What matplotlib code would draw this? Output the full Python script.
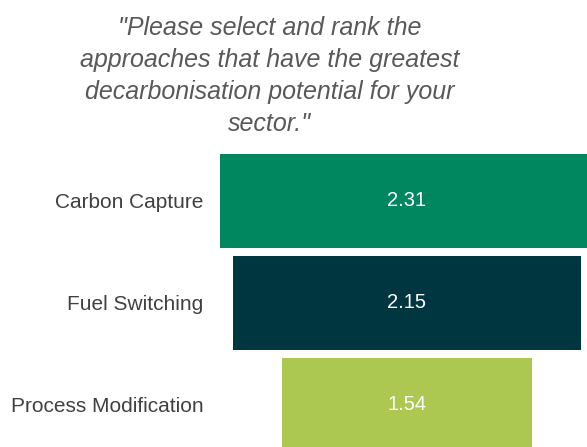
import matplotlib
matplotlib.use("Agg")
import matplotlib.pyplot as plt

categories = ["Carbon Capture", "Fuel Switching", "Process Modification"]
scores = [2.31, 2.15, 1.54]
colors = ["#00875F", "#003640", "#ADC851"]
title = ('"Please select and rank the\napproaches that have the greatest\n'
         'decarbonisation potential for your\nsector."')

plt.rcParams["font.family"] = ["Liberation Sans", "DejaVu Sans"]

fig = plt.figure(figsize=(5.87, 4.47), dpi=100)
# axes spans the bar area; bars are centred on 0 (funnel layout)
ax = fig.add_axes([213 / 587, 0, 374 / 587, 297 / 447])
ypos = list(range(len(categories)))
ax.barh(ypos, scores, left=[-s / 2 for s in scores], height=0.92, color=colors)
for y, s in zip(ypos, scores):
    ax.text(0, y, f"{s:.2f}", ha="center", va="center", color="white", fontsize=14.5)

ax.set_xlim(-1.199, 1.1125)
ax.set_ylim(2.412, -0.5)
ax.set_yticks(ypos)
ax.set_yticklabels(categories, fontsize=15, color="#404040")
ax.tick_params(axis="y", length=0, pad=7)
ax.set_xticks([])
for sp in ax.spines.values():
    sp.set_visible(False)

fig.text(270 / 587, 1 - 76 / 447, title, ha="center", va="center", fontsize=18,
         style="italic", color="#595959", linespacing=1.41)

fig.savefig("out.png", dpi=100)
